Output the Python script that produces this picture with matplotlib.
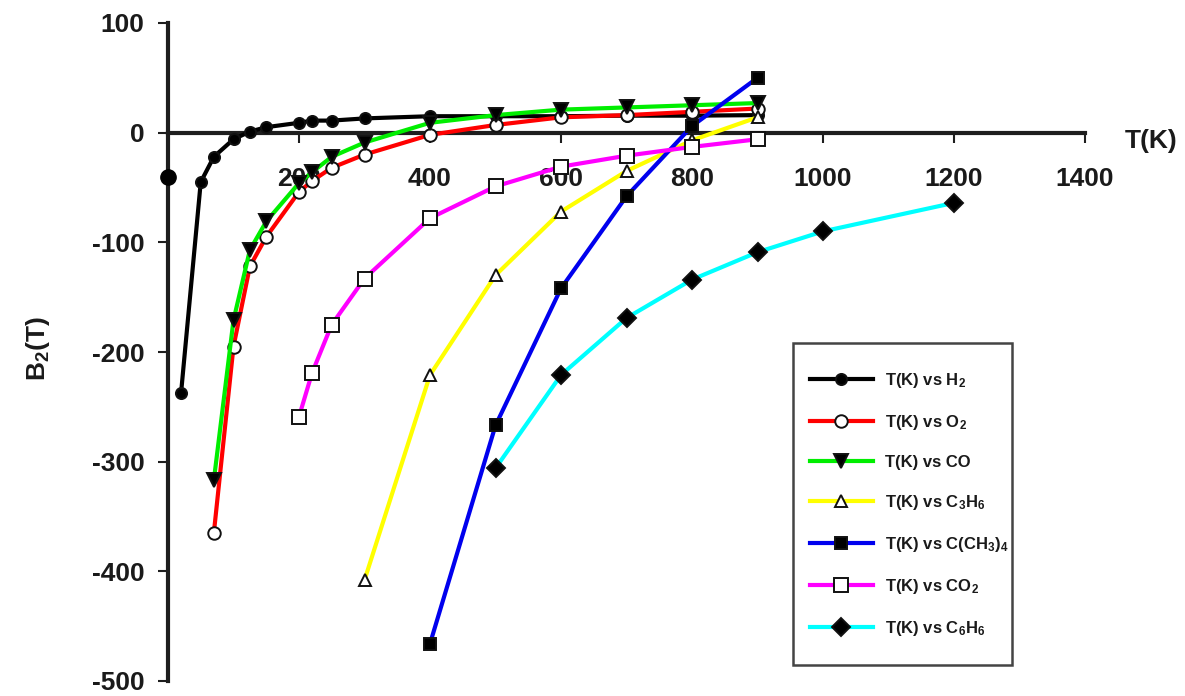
import matplotlib
matplotlib.use("Agg")
import matplotlib.pyplot as plt
from matplotlib.patches import Rectangle

plt.rcParams["font.family"] = ["Liberation Sans", "DejaVu Sans"]
plt.rcParams["font.weight"] = "bold"
plt.rcParams["axes.unicode_minus"] = False
plt.rcParams["mathtext.fontset"] = "custom"
plt.rcParams["mathtext.rm"] = "Liberation Sans:bold"
plt.rcParams["mathtext.it"] = "Liberation Sans:bold"
plt.rcParams["mathtext.bf"] = "Liberation Sans:bold"

# Second virial coefficient B2(T) for several gases
h2_t = [20, 50, 70, 100, 125, 150, 200, 220, 250, 300, 400, 500, 600, 700, 800, 900]
h2_b = [-237, -45, -22, -6, 1, 5, 9, 11, 11, 13, 15, 15, 15, 15.5, 15.5, 16]
h2_extra_t = [0]
h2_extra_b = [-40]

o2_t = [70, 100, 125, 150, 200, 220, 250, 300, 400, 500, 600, 700, 800, 900]
o2_b = [-365, -195, -122, -95, -54, -44, -32, -20, -2, 7, 14, 16, 19, 22]

co_t = [70, 100, 125, 150, 200, 220, 250, 300, 400, 500, 600, 700, 800, 900]
co_b = [-317, -171, -107, -81, -46, -36, -22, -9, 9, 16, 21, 23, 25, 27]

c3h6_t = [300, 400, 500, 600, 700, 800, 900]
c3h6_b = [-408, -221, -130, -72, -35, -7, 14]

neopentane_t = [400, 500, 600, 700, 800, 900]
neopentane_b = [-466, -267, -142, -58, 6, 50]

co2_t = [200, 220, 250, 300, 400, 500, 600, 700, 800, 900]
co2_b = [-259, -219, -175, -133, -78, -49, -31, -21, -13, -6]

c6h6_t = [500, 600, 700, 800, 900, 1000, 1200]
c6h6_b = [-306, -221, -169, -134, -109, -90, -64]

x_ticks = [200, 400, 600, 800, 1000, 1200, 1400]
y_ticks = [-500, -400, -300, -200, -100, 0, 100]

W, H = 1185, 696
fig = plt.figure(figsize=(W / 100, H / 100), dpi=100)
fig.patch.set_facecolor("white")
ax = fig.add_axes([168 / W, 1 - 681 / H, (1085 - 168) / W, (681 - 23) / H])
ax.set_xlim(0, 1400)
ax.set_ylim(-500, 100)

axis_color = "#1e1e1e"
for side in ("top", "right"):
    ax.spines[side].set_visible(False)
ax.spines["left"].set_position(("data", 0))
ax.spines["bottom"].set_position(("data", 0))
for side in ("left", "bottom"):
    ax.spines[side].set_linewidth(3)
    ax.spines[side].set_color(axis_color)
    ax.spines[side].set_zorder(2)

ax.set_xticks(x_ticks)
ax.set_yticks(y_ticks)
ax.set_xticklabels([str(v) for v in x_ticks])
ax.set_yticklabels([str(v) for v in y_ticks])
ax.tick_params(axis="both", direction="out", length=7, width=1.5,
               color=axis_color, labelsize=19, labelcolor="#1a1a1a")
ax.tick_params(axis="x", pad=18)
ax.tick_params(axis="y", pad=10)
for lbl in ax.get_xticklabels() + ax.get_yticklabels():
    lbl.set_fontweight("bold")

lw = 3
edge = "#111111"
series = [
    (h2_t, h2_b, "#000000", "o", "black", 8, r"T(K) vs H$_2$"),
    (o2_t, o2_b, "#ff0000", "o", "white", 9, r"T(K) vs O$_2$"),
    (co_t, co_b, "#00ee00", "v", "black", 10, "T(K) vs CO"),
    (c3h6_t, c3h6_b, "#ffff00", "^", "white", 9, r"T(K) vs C$_3$H$_6$"),
    (neopentane_t, neopentane_b, "#0000ee", "s", "black", 9, r"T(K) vs C(CH$_3$)$_4$"),
    (co2_t, co2_b, "#ff00ff", "s", "white", 10, r"T(K) vs CO$_2$"),
    (c6h6_t, c6h6_b, "#00ffff", "D", "black", 9, r"T(K) vs C$_6$H$_6$"),
]

handles = []
for i, (t, b, color, marker, face, ms, label) in enumerate(series):
    line, = ax.plot(t, b, color=color, lw=lw, marker=marker, markersize=ms,
                    markerfacecolor=face, markeredgecolor=edge,
                    markeredgewidth=1.4, label=label, zorder=3 + i * 0.1,
                    clip_on=False)
    handles.append(line)

ax.plot(h2_extra_t, h2_extra_b, linestyle="none", marker="o", markersize=11,
        color="black", zorder=3.05, clip_on=False)

ax.text(1501, -8, "T(K)", ha="center", va="center", fontsize=19,
        fontweight="bold", color="#1a1a1a")
fig.text(38 / W, 1 - 349 / H, r"B$_2$(T)", rotation=90, ha="center",
         va="center", fontsize=19, fontweight="bold", color="#1a1a1a")

# Legend frame drawn as a plain box, entries placed inside it
box = Rectangle((793 / W, 1 - 665 / H), (1012 - 793) / W, (665 - 343) / H,
                transform=fig.transFigure, facecolor="white",
                edgecolor="#444444", linewidth=1.8, zorder=4)
fig.patches.append(box)

leg = fig.legend(handles=handles, loc="upper left",
                 bbox_to_anchor=(810 / W, 1 - 371 / H),
                 bbox_transform=fig.transFigure, fontsize=12,
                 frameon=False, handlelength=3.75, handletextpad=0.75,
                 labelspacing=1.38, borderpad=0, borderaxespad=0)
leg.set_zorder(5)
for txt in leg.get_texts():
    txt.set_fontweight("bold")
    txt.set_color("#1a1a1a")

fig.savefig("out.png", dpi=100, facecolor="white")
